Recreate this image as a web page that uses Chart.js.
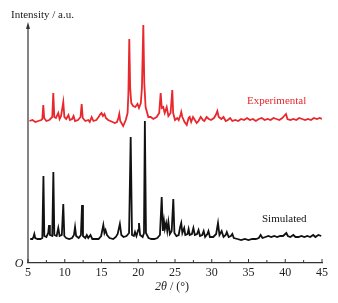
<!DOCTYPE html>
<html>
<head>
<meta charset="utf-8">
<script src="https://cdn.jsdelivr.net/npm/chart.js@4/dist/chart.umd.min.js"></script>
<style>
  html, body { margin: 0; padding: 0; background: #fff; }
  #wrap { width: 338px; height: 303px; }
</style>
</head>
<body>
<div id="wrap"><canvas id="xrdChart" width="338" height="303"></canvas></div>
<script>
// 2theta positions and intensities (intensity in arbitrary units)
const expTheta = [5.2, 5.6, 6.0, 6.4, 6.8, 6.95, 7.08, 7.2, 7.5, 7.9, 8.3, 8.44, 8.58, 8.8, 9.12, 9.3, 9.5, 9.8, 9.95,
  10.2, 10.5, 10.7, 11.0, 11.2, 11.4, 11.8, 12.15, 12.3, 12.45, 12.8, 13.2, 13.4, 13.66, 13.9, 14.3, 14.6, 14.85,
  15.0, 15.2, 15.4, 15.6, 15.9, 16.2, 16.5, 16.8, 17.1, 17.3, 17.42, 17.55, 17.95, 18.3, 18.55, 18.66, 18.78, 18.9,
  19.05, 19.3, 19.6, 19.9, 20.1, 20.35, 20.5, 20.69, 20.82, 21.0, 21.37, 21.7, 22.05, 22.5, 22.85, 23.05, 23.2,
  23.4, 23.6, 23.87, 24.1, 24.4, 24.5, 24.63, 24.75, 25.0, 25.3, 25.5, 25.75, 25.85, 26.0, 26.3, 26.6, 26.85, 27.0,
  27.2, 27.45, 27.7, 27.95, 28.2, 28.5, 28.8, 29.0, 29.3, 29.6, 29.9, 30.3, 30.55, 30.76, 30.95, 31.3, 31.6, 31.9,
  32.2, 32.5, 32.8, 33.2, 33.6, 34.0, 34.4, 34.8, 35.2, 35.6, 36.0, 36.4, 36.8, 37.2, 37.6, 38.0, 38.4, 38.8, 39.2,
  39.6, 39.85, 40.1, 40.3, 40.7, 41.1, 41.5, 41.9, 42.3, 42.7, 43.1, 43.5, 43.9, 44.3, 44.7, 45.0];
const expIntensity = [142, 143, 141, 142, 143, 144, 158, 145, 142, 143, 146, 170, 146, 145, 150, 144, 147, 161, 146,
  144, 148, 143, 144, 147, 142, 143, 146, 159, 145, 142, 143, 141, 146, 142, 143, 146, 149,
  150, 147, 149, 145, 143, 142, 141, 140, 141, 145, 149, 142, 137, 143, 150, 170, 224, 175,
  160, 157, 156, 159, 155, 160, 175, 238, 180, 156, 146, 146, 144, 146, 150, 170, 155,
  156, 150, 156, 147, 150, 160, 173, 150, 143, 145, 143, 148, 151, 146, 141, 138, 145, 146,
  141, 146, 143, 140, 142, 146, 143, 142, 146, 144, 143, 145, 148, 152, 146, 144, 146, 142,
  143, 145, 142, 143, 142, 144, 143, 145, 143, 144, 142, 144, 145, 143, 144, 143, 145, 144, 143,
  145, 147, 149, 144, 143, 144, 143, 145, 144, 143, 144, 143, 145, 144, 145, 144];

const simTheta = [5.3, 5.6, 5.75, 5.86, 5.98, 6.3, 6.7, 6.95, 7.1, 7.22, 7.5, 7.75, 7.86, 7.98, 8.3, 8.45, 8.58, 8.9,
  9.12, 9.3, 9.6, 9.8, 9.94, 10.2, 10.6, 11.0, 11.25, 11.4, 11.55, 11.9, 12.2, 12.35, 12.48, 12.8, 13.0, 13.2, 13.5,
  13.75, 14.2, 14.6, 14.95, 15.25, 15.4, 15.55, 15.75, 16.1, 16.6, 16.95, 17.2, 17.5, 17.7, 18.0, 18.4, 18.75, 18.97,
  19.15, 19.4, 19.56, 19.75, 20.0, 20.1, 20.25, 20.6, 20.78, 20.9, 21.05, 21.4, 21.8, 22.2, 22.6, 22.95, 23.19, 23.35,
  23.5, 23.62, 23.8, 23.95, 24.1, 24.3, 24.55, 24.77, 24.92, 25.2, 25.5, 25.7, 25.85, 26.0, 26.25, 26.4, 26.7, 26.85,
  27.0, 27.3, 27.5, 27.7, 28.0, 28.2, 28.4, 28.7, 28.9, 29.1, 29.4, 29.55, 29.75, 30.2, 30.6, 30.85, 31.05, 31.35,
  31.6, 31.9, 32.05, 32.3, 32.6, 32.8, 33.0, 33.5, 34.0, 34.5, 35.0, 35.5, 36.0, 36.4, 36.65, 36.9, 37.3, 37.7, 38.1,
  38.5, 38.9, 39.3, 39.7, 40.0, 40.15, 40.35, 40.7, 41.1, 41.4, 41.8, 42.2, 42.6, 43.0, 43.4, 43.8, 44.1, 44.5, 44.9];
const simIntensity = [24, 24, 26, 29, 25, 24, 24, 25, 87, 27, 26, 30, 38, 28, 27, 91, 28, 27,
  35, 27, 28, 59, 27, 25, 24, 25, 28, 36, 27, 25, 28, 58, 27, 25, 28, 25, 28,
  24, 24, 24, 27, 38, 30, 33, 28, 25, 24, 26, 29, 39, 28, 26, 27, 30, 126,
  28, 27, 31, 27, 33, 40, 28, 26, 30, 142, 30, 25, 24, 24, 25, 28, 66, 32,
  42, 34, 40, 32, 41, 29, 32, 64, 30, 27, 28, 36, 40, 30, 35, 28, 29, 34,
  28, 29, 35, 28, 29, 33, 27, 28, 32, 26, 29, 32, 26, 26, 29, 40, 28, 32,
  26, 28, 31, 26, 27, 29, 25, 24, 23, 24, 23, 24, 24, 25, 28, 25, 26, 27, 26,
  27, 26, 27, 27, 29, 30, 27, 26, 28, 26, 26, 27, 26, 27, 26, 28, 26, 28, 27];

const xTicks = [5, 10, 15, 20, 25, 30, 35, 40, 45];
const minorTicks = [7.5, 12.5, 17.5, 22.5, 27.5, 32.5, 37.5, 42.5];

const serif = '"Liberation Serif", "DejaVu Serif", serif';
const redColor = '#e8282c';

function toPoints(xs, ys) {
  return xs.map((x, i) => ({ x: x, y: ys[i] }));
}

// axis arrow, inward ticks and the extra text labels
const decorPlugin = {
  id: 'decor',
  afterDraw(chart) {
    const ctx = chart.ctx;
    const area = chart.chartArea;
    const xs = chart.scales.x;
    ctx.save();
    ctx.strokeStyle = '#333';
    ctx.fillStyle = '#333';
    ctx.lineWidth = 1.2;

    // y axis with arrow head
    ctx.beginPath();
    ctx.moveTo(area.left, area.bottom);
    ctx.lineTo(area.left, area.top + 4);
    ctx.stroke();
    ctx.beginPath();
    ctx.moveTo(area.left, area.top);
    ctx.lineTo(area.left - 2, area.top + 7);
    ctx.lineTo(area.left + 2, area.top + 7);
    ctx.closePath();
    ctx.fill();

    // ticks pointing up into the plot
    ctx.lineWidth = 1;
    xTicks.forEach(v => {
      const px = xs.getPixelForValue(v);
      ctx.beginPath();
      ctx.moveTo(px, area.bottom);
      ctx.lineTo(px, area.bottom - 4);
      ctx.stroke();
    });
    minorTicks.forEach(v => {
      const px = xs.getPixelForValue(v);
      ctx.beginPath();
      ctx.moveTo(px, area.bottom);
      ctx.lineTo(px, area.bottom - 3);
      ctx.stroke();
    });

    // texts
    ctx.fillStyle = '#222';
    ctx.textBaseline = 'alphabetic';
    ctx.textAlign = 'left';
    ctx.font = '11px ' + serif;
    ctx.fillText('Intensity / a.u.', 11, 18);

    ctx.font = 'italic 12px ' + serif;
    ctx.textAlign = 'center';
    ctx.fillText('O', 19, 267);

    ctx.textAlign = 'left';
    ctx.font = 'italic 12px ' + serif;
    const part1 = '2\u03b8';
    const w1 = ctx.measureText(part1).width;
    ctx.font = '12px ' + serif;
    const part2 = ' / (\u00b0)';
    const w2 = ctx.measureText(part2).width;
    const startX = 172 - (w1 + w2) / 2;
    ctx.font = 'italic 12px ' + serif;
    ctx.fillText(part1, startX, 290);
    ctx.font = '12px ' + serif;
    ctx.fillText(part2, startX + w1, 290);

    ctx.font = '11px ' + serif;
    ctx.fillStyle = redColor;
    ctx.fillText('Experimental', 247, 104);
    ctx.fillStyle = '#111';
    ctx.fillText('Simulated', 262, 222);
    ctx.restore();
  }
};

new Chart(document.getElementById('xrdChart'), {
  type: 'line',
  data: {
    datasets: [
      {
        label: 'Experimental',
        data: toPoints(expTheta, expIntensity),
        borderColor: redColor,
        borderWidth: 1.8,
        pointRadius: 0,
        tension: 0
      },
      {
        label: 'Simulated',
        data: toPoints(simTheta, simIntensity),
        borderColor: '#111',
        borderWidth: 1.8,
        pointRadius: 0,
        tension: 0
      }
    ]
  },
  options: {
    responsive: false,
    animation: false,
    events: [],
    layout: { padding: { left: 28, right: 16, top: 22, bottom: 0 } },
    plugins: { legend: { display: false }, tooltip: { enabled: false } },
    scales: {
      x: {
        type: 'linear',
        min: 5,
        max: 45,
        afterFit: scale => { scale.height = 40; },
        afterBuildTicks: scale => { scale.ticks = xTicks.map(v => ({ value: v })); },
        grid: { display: false, drawTicks: false },
        border: { display: true, color: '#333', width: 1.2 },
        ticks: { padding: 3, color: '#222', font: { family: serif, size: 12 } }
      },
      y: {
        display: false,
        min: 0,
        max: 241
      }
    }
  },
  plugins: [decorPlugin]
});
</script>
</body>
</html>
